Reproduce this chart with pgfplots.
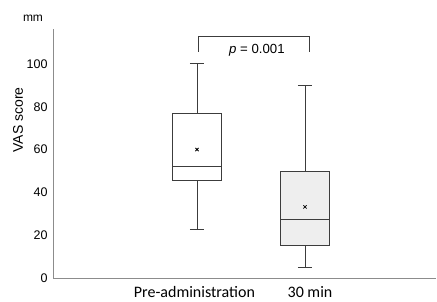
\documentclass[border=0pt]{standalone}
\usepackage{pgfplots}
\pgfplotsset{compat=1.18}
\usepackage{fontspec}
\setmainfont{Liberation Sans}
\newfontfamily\calib{Carlito}
\definecolor{axgray}{HTML}{8C8C8C}
\definecolor{boxline}{HTML}{3C3C3C}
\definecolor{boxfill}{HTML}{EEEEEE}
\begin{document}
\begin{tikzpicture}
\useasboundingbox (0pt,0pt) rectangle (437pt,301pt);
\begin{axis}[
  at={(53pt,23pt)}, anchor=south west,
  scale only axis, width=383pt, height=249pt,
  xmin=-1.333, xmax=2.213,
  ymin=0, ymax=116.3,
  axis x line*=bottom, axis y line*=left,
  axis line style={axgray, line width=1pt, -},
  ytick={0,20,40,60,80,100},
  major tick length=0pt,
  xtick={0,1},
  xticklabels={Pre-administration\hspace*{5pt}, \hspace*{10pt}30 min},
  x tick label style={font=\calib\fontsize{16}{18}\selectfont, yshift=-5pt},
  y tick label style={font=\fontsize{12.5}{15}\selectfont, xshift=-2pt},
  /pgf/number format/assume math mode=true,
  clip=false,
  bx/.style={draw=boxline, line width=0.9pt, mark=none, solid},
]
% Pre-administration: whiskers 22.9/100, quartiles 45.5/77, median 52.3, mean 60
\addplot[bx, fill=white] coordinates {(-0.225,45.5) (0.225,45.5) (0.225,77) (-0.225,77)} -- cycle;
\addplot[bx] coordinates {(-0.225,52.3) (0.225,52.3)};
\addplot[bx] coordinates {(0,77) (0,100)};
\addplot[bx] coordinates {(0,45.5) (0,22.9)};
\addplot[bx] coordinates {(-0.065,100) (0.065,100)};
\addplot[bx] coordinates {(-0.065,22.9) (0.065,22.9)};
% 30 min: whiskers 5/90, quartiles 15/49.7, median 27.4, mean 33.2
\addplot[bx, fill=boxfill] coordinates {(0.775,15) (1.225,15) (1.225,49.7) (0.775,49.7)} -- cycle;
\addplot[bx] coordinates {(0.775,27.4) (1.225,27.4)};
\addplot[bx] coordinates {(1,49.7) (1,90)};
\addplot[bx] coordinates {(1,15) (1,5)};
\addplot[bx] coordinates {(0.935,90) (1.065,90)};
\addplot[bx] coordinates {(0.935,5) (1.065,5)};
% means
\addplot[only marks, mark=x, mark size=2.3pt, black, mark options={solid, black, line width=0.8pt}] coordinates {(0,60) (1,33.2)};
\draw[boxline, line width=0.8pt] (axis cs:0.01,105.6) -- (axis cs:0.01,113) -- (axis cs:1.045,113) -- (axis cs:1.045,105.6);
\node[font=\fontsize{13.2}{15}\selectfont] at (axis cs:0.555,106.6) {\textit{p} = 0.001};
\end{axis}
\node[font=\fontsize{12}{14}\selectfont] at (33pt,283pt) {mm};
\node[font=\fontsize{14}{16}\selectfont, rotate=90] at (18pt,181pt) {VAS score};
\end{tikzpicture}
\end{document}
